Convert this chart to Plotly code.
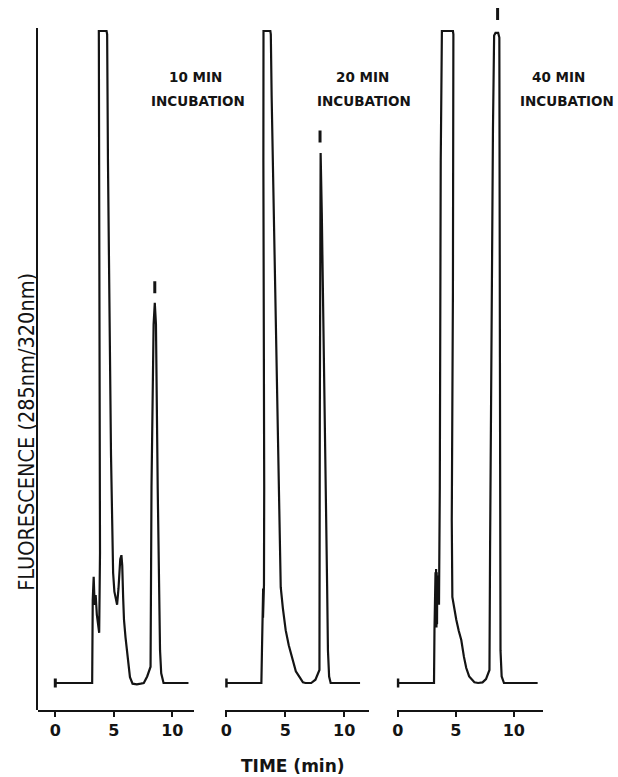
import plotly.graph_objects as go

W, H = 618, 777

# ---------------- data ----------------
# time in minutes, fluorescence in % of full scale (trace clipped at 100)
T10 = [0.0, 3.15, 3.2, 3.28, 3.36, 3.45, 3.55, 3.75, 3.82, 3.76, 3.68, 3.72, 4.38, 4.43,
       4.5, 4.62, 4.76, 4.86, 4.94, 5.05, 5.2, 5.28, 5.4, 5.55, 5.65, 5.72, 5.8, 5.87,
       6.0, 6.13, 6.38, 6.6, 6.97, 7.3, 7.56, 7.85, 7.98, 8.14, 8.22, 8.4, 8.5, 8.6,
       8.75, 8.95, 9.05, 9.25, 11.38]
S10 = [0, 0, 12.7, 16.3, 12.0, 13.5, 10.5, 7.7, 20, 70, 99.5, 100, 100, 99.5,
       80, 55, 35, 25, 16.9, 14, 12.2, 12.0, 14.5, 19.0, 19.6, 18, 13, 9.7,
       7, 4.6, 0.9, -0.1, -0.2, -0.1, 0, 1.0, 1.7, 2.5, 30, 55, 58.3, 55,
       30, 5, 1.5, 0, 0]

T20 = [0.0, 2.98, 3.03, 3.06, 3.1, 3.08, 3.13, 3.12, 3.2, 3.22, 3.15, 3.12, 3.16, 3.74,
       3.78, 3.85, 4.0, 4.2, 4.37, 4.5, 4.54, 4.62, 4.8, 5.04, 5.3, 5.63, 5.9, 6.22,
       6.5, 6.72, 7.2, 7.56, 7.75, 7.9, 7.93, 7.96, 8.0, 8.1, 8.25, 8.42, 8.55, 8.62,
       8.72, 8.85, 11.34]
S20 = [0, 0, 5, 8, 14, 9, 14.5, 10, 15, 30, 80, 99.5, 100, 100,
       99.5, 90, 75, 58, 44, 30, 25, 14.7, 11.5, 8.1, 5.8, 3.5, 1.8, 0.9,
       0.1, 0, 0, 0.5, 1.2, 2.0, 40, 81.3, 81.3, 72, 55, 35, 15, 5,
       1, 0, 0]

T40 = [0.0, 3.12, 3.16, 3.2, 3.25, 3.28, 3.3, 3.33, 3.35, 3.38, 3.4, 3.43, 3.45, 3.55,
       3.62, 3.7, 3.76, 3.8, 4.75, 4.79, 4.75, 4.65, 4.7, 4.85, 5.04, 5.25, 5.47, 5.7,
       5.9, 6.15, 6.32, 6.6, 6.92, 7.3, 7.6, 7.78, 7.9, 7.95, 8.05, 8.2, 8.3, 8.42,
       8.65, 8.75, 8.8, 8.85, 8.95, 9.15, 12.05]
S40 = [0, 0, 8, 12, 17, 9, 17.5, 8.5, 17, 9, 16.5, 9.5, 16, 12,
       30, 80, 99.5, 100, 100, 99.5, 60, 25, 13.2, 11.5, 9.7, 8, 6.6, 4,
       2.3, 1.0, 0.6, 0.1, 0, 0.1, 0.6, 1.5, 2.0, 20, 50, 85, 99.3, 99.7,
       99.7, 99, 50, 5, 1, 0, 0]

# product-peak marks ("I" marks above the last peak): time and centre height
MARK_T = [8.5, 7.95, 8.6]
MARK_Y = [60.7, 83.8, 102.6]

TITLES = ["10 MIN", "20 MIN", "40 MIN"]
SUBTITLE = "INCUBATION"
TICK_VALS = [0, 5, 10]
TICK_TEXT = ["0", "5", "10"]
Y_LABEL = "FLUORESCENCE (285nm/320nm)"
X_LABEL = "TIME (min)"

# ---------------- layout helpers (pixel -> paper) ----------------
def px(x):
    return x / W

def py(y):
    return 1 - y / H

# vertical scale: baseline (0) at 683 px, full scale (100) at 31 px
Y0, YPU = 683.0, 6.52
Y_BOTTOM_PX, Y_TOP_PX, AXIS_TOP_PX = 710.0, 4.0, 28.0
y_range = [(Y0 - Y_BOTTOM_PX) / YPU, (Y0 - Y_TOP_PX) / YPU]
MARK_HALF = 6.0 / YPU      # half length of the "I" marks (style)
START_HALF = 4.5 / YPU     # half length of the baseline start tick (style)

# per panel: axis line start/end px, px of t=0, px per minute
PANELS = [
    (33, 191, 50.7, 11.8),
    (222, 367, 223.0, 11.9),
    (395, 542, 396.0, 11.7),
]

series = [(T10, S10), (T20, S20), (T40, S40)]
fig = go.Figure()
ink = "#141414"

# empty trace so that the ordinate-line axis (y2) is created
fig.add_trace(go.Scatter(x=[None], y=[None], xaxis="x", yaxis="y2", mode="lines",
                         hoverinfo="skip"))

for i, ((t, s), (a, b, z, ppm)) in enumerate(zip(series, PANELS)):
    xa = "x" if i == 0 else f"x{i+1}"
    fig.add_trace(go.Scatter(x=t, y=s, mode="lines", xaxis=xa, yaxis="y",
                             line=dict(color=ink, width=2.2), hoverinfo="skip"))
    # "I" mark above the product peak and the start tick of the baseline
    mx = [MARK_T[i], MARK_T[i], None, t[0], t[0]]
    my = [MARK_Y[i] - MARK_HALF, MARK_Y[i] + MARK_HALF, None,
          s[0] - START_HALF, s[0] + START_HALF]
    fig.add_trace(go.Scatter(x=mx, y=my, mode="lines", xaxis=xa, yaxis="y",
                             line=dict(color=ink, width=3), hoverinfo="skip"))
    key = "xaxis" if i == 0 else f"xaxis{i+1}"
    fig.layout[key] = dict(
        domain=[px(a), px(b)],
        range=[(a - z) / ppm, (b - z) / ppm],
        anchor="y",
        showline=True, linecolor=ink, linewidth=2,
        showgrid=False, zeroline=False,
        ticks="outside", ticklen=5, tickwidth=2, tickcolor=ink,
        tickvals=TICK_VALS, ticktext=TICK_TEXT,
        tickfont=dict(family="DejaVu Sans", size=16, color=ink, weight="bold"),
        fixedrange=True,
    )

fig.update_layout(
    width=W, height=H,
    margin=dict(l=0, r=0, t=0, b=0),
    paper_bgcolor="white", plot_bgcolor="rgba(0,0,0,0)",
    showlegend=False,
    # data axis (tall enough for the peak marks), no line drawn
    yaxis=dict(domain=[py(Y_BOTTOM_PX), py(Y_TOP_PX)], range=y_range, anchor="x",
               showline=False, showgrid=False, zeroline=False,
               showticklabels=False, ticks="", fixedrange=True),
    # ordinate line of the first panel
    yaxis2=dict(domain=[py(Y_BOTTOM_PX), py(AXIS_TOP_PX)], range=[0, 1], anchor="x",
                showline=True, linecolor=ink, linewidth=2, showgrid=False,
                zeroline=False, showticklabels=False, ticks="", fixedrange=True),
)

title_pos = [((192, 77), (195, 101)), ((360, 77), (362, 101)), ((558, 77), (567, 101))]
annots = []
for title, (p1, p2) in zip(TITLES, title_pos):
    for text, (x, y) in ((title, p1), (SUBTITLE, p2)):
        annots.append(dict(text=f"<b>{text}</b>", x=px(x), y=py(y), xref="paper", yref="paper",
                           showarrow=False, xanchor="center", yanchor="middle",
                           font=dict(family="DejaVu Sans", size=13.5, color=ink)))
annots.append(dict(text=Y_LABEL, x=px(21), y=py(432), xref="paper", yref="paper",
                   showarrow=False, textangle=-90, xanchor="center", yanchor="middle",
                   font=dict(family="DejaVu Sans Condensed, Liberation Sans Narrow, DejaVu Sans",
                             size=21.5, color=ink)))
annots.append(dict(text=f"<b>{X_LABEL}</b>", x=px(290), y=py(766), xref="paper", yref="paper",
                   showarrow=False, xanchor="center", yanchor="middle",
                   font=dict(family="DejaVu Sans", size=17, color=ink)))
fig.update_layout(annotations=annots)

fig.write_html("out.html")
